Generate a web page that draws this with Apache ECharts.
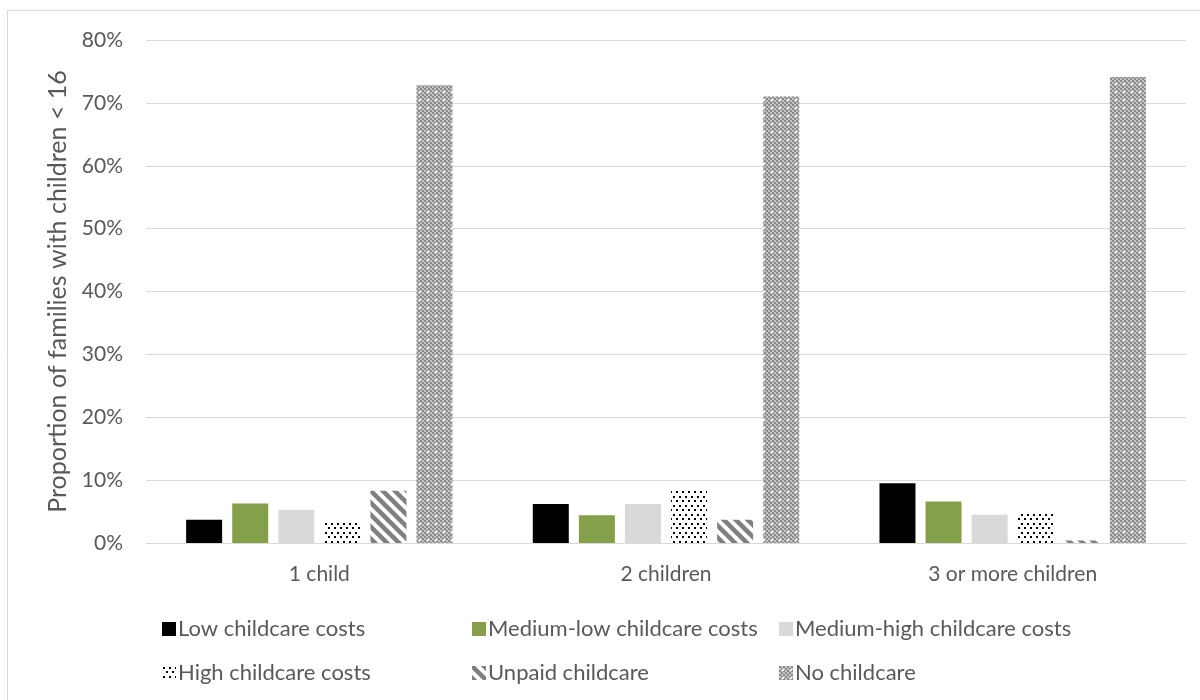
<!DOCTYPE html>
<html><head><meta charset="utf-8">
<script src="https://cdn.jsdelivr.net/npm/echarts@6/dist/echarts.min.js"></script>
<style>html,body{margin:0;padding:0;background:#fff}#c{width:1200px;height:700px}</style>
</head><body><div id="c"></div>
<script>
const categories = ['1 child', '2 children', '3 or more children'];
const seriesNames = ['Low childcare costs', 'Medium-low childcare costs', 'Medium-high childcare costs', 'High childcare costs', 'Unpaid childcare', 'No childcare'];
const lowCosts = [3.7, 6.2, 9.5];
const mediumLowCosts = [6.3, 4.4, 6.6];
const mediumHighCosts = [5.3, 6.2, 4.5];
const highCosts = [3.5, 8.5, 4.6];
const unpaidCare = [8.3, 3.7, 0.4];
const noCare = [72.8, 71.0, 74.1];
const yTicks = [0, 10, 20, 30, 40, 50, 60, 70, 80];

function mk(w, h, draw) { const c = document.createElement('canvas'); c.width = w; c.height = h; const g = c.getContext('2d'); draw(g); return c; }
const dotPat = mk(6, 9, g => { g.fillStyle = '#fff'; g.fillRect(0,0,6,9); g.fillStyle = '#000'; g.fillRect(1,1,2,2); g.fillRect(4,5,2,2); });
const stripePat = mk(12, 12, g => {
  g.fillStyle = '#fff'; g.fillRect(0,0,12,12);
  g.strokeStyle = '#808080'; g.lineWidth = 4.5;
  for (let k = -2; k <= 2; k++) { g.beginPath(); g.moveTo(k*12 - 2, -2); g.lineTo(k*12 + 14, 14); g.stroke(); }
});
const checkPat = mk(8, 8, g => {
  g.fillStyle = '#fff'; g.fillRect(0,0,8,8);
  g.fillStyle = '#8a8a8a';
  for (let y = 0; y < 8; y += 2) for (let x = 0; x < 8; x += 2) if (((x + y) / 2) % 2 === 0) g.fillRect(x, y, 2, 2);
  g.fillStyle = '#c4c4c4';
  for (let y = 0; y < 8; y += 2) for (let x = 0; x < 8; x += 2) if (((x + y) / 2) % 2 === 1) g.fillRect(x, y, 2, 2);
  g.fillStyle = '#fff'; g.fillRect(3, 3, 2, 2);
});
const fills = ['#000000', '#84a04a', '#d9d9d9', {image: dotPat, repeat: 'repeat'}, {image: stripePat, repeat: 'repeat'}, {image: checkPat, repeat: 'repeat'}];
const values = [lowCosts, mediumLowCosts, mediumHighCosts, highCosts, unpaidCare, noCare];
const FONT = 'Lato';
const TXT = '#595959';

const chart = echarts.init(document.getElementById('c'), null, {renderer: 'canvas'});
const legendBase = (left, data) => ({
  orient: 'vertical', left: left, top: 613, itemWidth: 14, itemHeight: 14, itemGap: 22,
  icon: 'rect', data: data,
  textStyle: {fontFamily: FONT, fontSize: 22, color: TXT, padding: [0,0,0,-3]}
});
chart.setOption({
  animation: false,
  backgroundColor: '#fff',
  graphic: [{type: 'rect', shape: {x: 7.5, y: 10.5, width: 1200, height: 700}, style: {fill: 'none', stroke: '#d9d9d9', lineWidth: 1}, silent: true}],
  grid: {left: 146, right: 14, top: 40, bottom: 157, containLabel: false},
  legend: [
    legendBase(157, [seriesNames[0], seriesNames[3]]),
    legendBase(467, [seriesNames[1], seriesNames[4]]),
    legendBase(774, [seriesNames[2], seriesNames[5]])
  ],
  xAxis: {
    type: 'category', data: categories,
    axisLine: {lineStyle: {color: '#d9d9d9', width: 1}}, axisTick: {show: false},
    axisLabel: {fontFamily: FONT, fontSize: 21, color: TXT, margin: 21}
  },
  yAxis: {
    type: 'value', min: yTicks[0], max: yTicks[yTicks.length-1], interval: 10,
    name: 'Proportion of families with children < 16', nameLocation: 'middle', nameGap: 72,
    nameTextStyle: {fontFamily: FONT, fontSize: 25, color: TXT},
    axisLine: {show: false}, axisTick: {show: false},
    axisLabel: {fontFamily: FONT, fontSize: 21, color: TXT, margin: 23, formatter: v => v + '%'},
    splitLine: {lineStyle: {color: '#d9d9d9', width: 1}}
  },
  series: seriesNames.map((n, i) => ({
    name: n, type: 'bar', data: values[i], barWidth: 36, barGap: '28%',
    itemStyle: {color: fills[i]}
  }))
});
</script></body></html>
